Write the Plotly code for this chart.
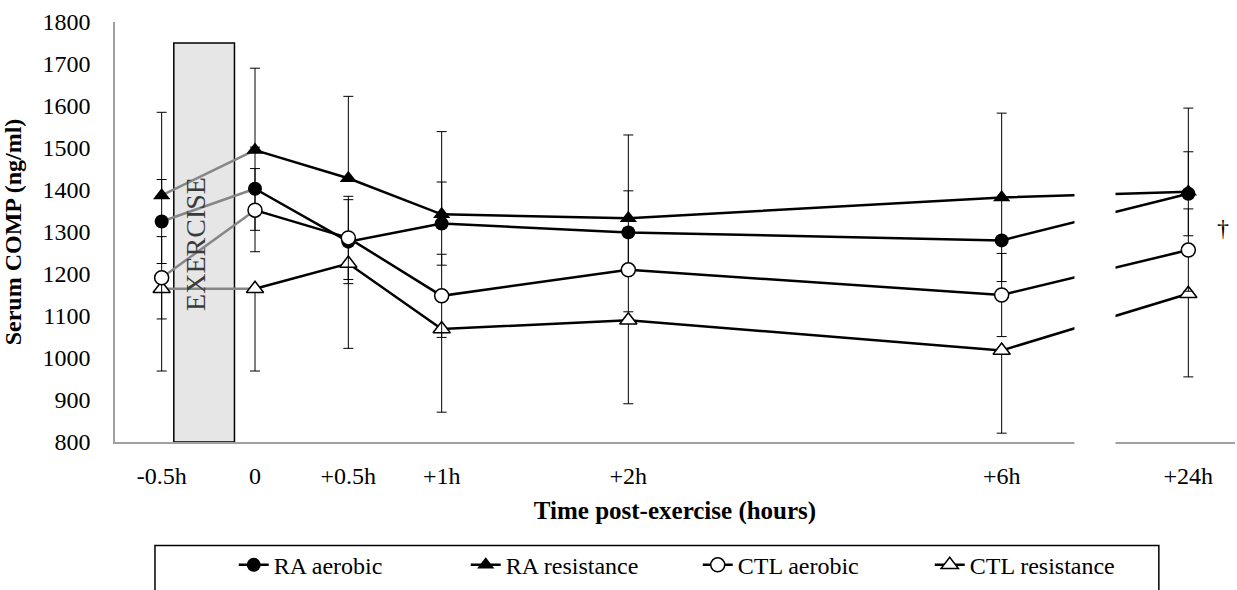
import plotly.graph_objects as go

# Sampling times and where each sits on the category axis
# (blank categories between +1h/+2h, +2h/+6h and across the axis break)
time_labels = ["-0.5h", "0", "+0.5h", "+1h", "+2h", "+6h", "+24h"]
slot = [0, 1, 2, 3, 5, 9, 11]

# Serum COMP (ng/ml), mean and SD per group
ra_aerobic = [1325, 1403, 1277, 1320, 1299, 1280, 1391]
ra_aerobic_sd = [100, 99, 100, 99, 99, 98, 100]
ra_resistance = [1387, 1495, 1428, 1342, 1333, 1382, 1396]
ra_resistance_sd = [198, 195, 195, 197, 198, 201, 199]
ctl_aerobic = [1191, 1352, 1286, 1148, 1210, 1150, 1257]
ctl_aerobic_sd = [98, 99, 99, 99, 100, 99, 98]
ctl_resistance = [1165, 1165, 1225, 1069, 1090, 1018, 1153]
ctl_resistance_sd = [196, 196, 202, 198, 199, 197, 198]

FONT = "Liberation Serif, Times New Roman, serif"
BLACK = "#000000"
GREY_SEG = "#868686"
AXIS = "#a0a0a0"

# name, values, sd, marker symbol, fill, error direction, legend rank
series = [
    ("RA resistance", ra_resistance, ra_resistance_sd, "triangle-up", BLACK, "plus", 2),
    ("RA aerobic", ra_aerobic, ra_aerobic_sd, "circle", BLACK, "both", 1),
    ("CTL resistance", ctl_resistance, ctl_resistance_sd, "triangle-up", "white", "minus", 4),
    ("CTL aerobic", ctl_aerobic, ctl_aerobic_sd, "circle", "white", "both", 3),
]


def err(sd, direction):
    zeros = [0] * len(sd)
    if direction == "both":
        arr, arrm = sd, sd
    elif direction == "plus":
        arr, arrm = sd, zeros
    else:
        arr, arrm = zeros, sd
    return dict(type="data", array=arr, arrayminus=arrm, symmetric=False,
                color=BLACK, thickness=1, width=5)


fig = go.Figure()

# Pre-to-post exercise segments drawn in grey
for name, vals, sd, sym, fill, direction, rank in series:
    fig.add_trace(go.Scatter(
        x=slot[:2], y=vals[:2], mode="lines",
        line=dict(color=GREY_SEG, width=2.5),
        showlegend=False, hoverinfo="skip"))

for name, vals, sd, sym, fill, direction, rank in series:
    msize = 14 if sym == "circle" else 15
    marker = dict(symbol=sym, size=msize, color=fill,
                  line=dict(color=BLACK, width=1.5 if fill == "white" else 0))
    e = err(sd, direction)
    # baseline (-0.5h) point: marker only
    e0 = dict(e)
    e0["array"] = e["array"][:1]
    e0["arrayminus"] = e["arrayminus"][:1]
    fig.add_trace(go.Scatter(
        x=slot[:1], y=vals[:1], mode="markers", marker=marker,
        error_y=e0, showlegend=False, name=name))
    e1 = dict(e)
    e1["array"] = e["array"][1:]
    e1["arrayminus"] = e["arrayminus"][1:]
    fig.add_trace(go.Scatter(
        x=slot[1:], y=vals[1:], mode="lines+markers", name=name,
        line=dict(color=BLACK, width=2.5), marker=marker,
        error_y=e1, legendrank=rank))

shapes = [
    # exercise bout
    dict(type="rect", xref="x", yref="y", x0=0.13, x1=0.78, y0=800, y1=1750,
         fillcolor="#e6e6e6", line=dict(color=BLACK, width=1.5), layer="below"),
    # axis break between +6h and +24h
    dict(type="rect", xref="x", yref="paper", x0=9.78, x1=10.22, y0=-0.03, y1=1.02,
         fillcolor="white", line=dict(width=0), layer="above"),
    # legend frame
    dict(type="rect", xref="paper", yref="paper", x0=0.0357, x1=0.932,
         y0=-0.40, y1=-0.2465, fillcolor="rgba(0,0,0,0)",
         line=dict(color=BLACK, width=1.5), layer="above"),
]

annotations = [
    dict(x=0.455, y=1272, xref="x", yref="y", text="EXERCISE", textangle=-90,
         xshift=-8, showarrow=False,
         font=dict(family=FONT, size=28, color="#3a3a3a")),
    dict(x=11.37, y=1310, xref="x", yref="y", text="†", showarrow=False,
         font=dict(family=FONT, size=24, color=BLACK)),
]

fig.update_layout(
    width=1237, height=590,
    margin=dict(l=115, r=2, t=22, b=142),
    paper_bgcolor="white", plot_bgcolor="white",
    font=dict(family=FONT, size=24, color=BLACK),
    shapes=shapes, annotations=annotations,
    showlegend=True,
    legend=dict(orientation="h", x=0.106, xanchor="left",
                y=-0.2934, yanchor="middle",
                font=dict(family=FONT, size=24, color=BLACK),
                entrywidth=187, entrywidthmode="pixels",
                bgcolor="rgba(0,0,0,0)", borderwidth=0),
    xaxis=dict(range=[-0.5, 11.5], tickmode="array", tickvals=slot,
               ticktext=time_labels, showline=True, linecolor=AXIS, linewidth=1.5,
               showgrid=False, zeroline=False, ticks="", ticklabelstandoff=11,
               tickfont=dict(family=FONT, size=24),
               title=dict(text="<b>Time post-exercise (hours)</b>", standoff=14,
                          font=dict(family=FONT, size=25))),
    yaxis=dict(range=[800, 1800], dtick=100, showline=True, linecolor=AXIS,
               linewidth=1.5, showgrid=False, zeroline=False, ticks="",
               ticklabelstandoff=18, tickfont=dict(family=FONT, size=24),
               title=dict(text="<b>Serum COMP (ng/ml)</b>", standoff=14,
                          font=dict(family=FONT, size=24))),
)

fig.write_html("out.html")
